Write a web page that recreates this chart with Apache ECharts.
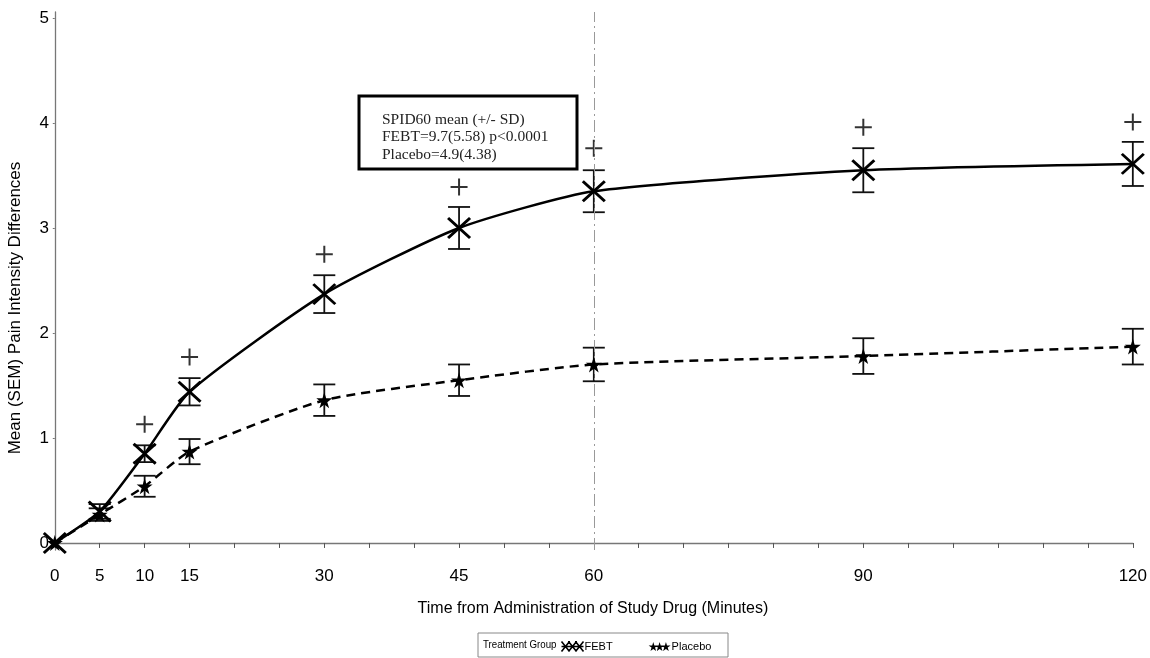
<!DOCTYPE html>
<html>
<head>
<meta charset="utf-8">
<script src="https://cdn.jsdelivr.net/npm/echarts@6/dist/echarts.min.js"></script>
<style>
html,body{margin:0;padding:0;background:#fff;}
#chart{width:1150px;height:658px;}
</style>
</head>
<body>
<div id="chart"></div>
<script>
// ---- data ----
const times = [0, 5, 10, 15, 30, 45, 60, 90, 120];
const febtMean = [0, 0.30, 0.85, 1.44, 2.37, 3.00, 3.35, 3.55, 3.61];
const febtSem = [0, 0.07, 0.08, 0.13, 0.18, 0.20, 0.20, 0.21, 0.21];
const placeboMean = [0, 0.27, 0.54, 0.87, 1.36, 1.55, 1.70, 1.78, 1.87];
const placeboSem = [0, 0.06, 0.10, 0.12, 0.15, 0.15, 0.16, 0.17, 0.17];
const sigTimes = [10, 15, 30, 45, 60, 90, 120];
const sigValues = [1.13, 1.77, 2.75, 3.39, 3.76, 3.96, 4.01];
const xTickLabels = [0, 5, 10, 15, 30, 45, 60, 90, 120];
const xMinorTicks = [0,5,10,15,20,25,30,35,40,45,50,55,60,65,70,75,80,85,90,95,100,105,110,115,120];
const yTickLabels = [0, 1, 2, 3, 4, 5];
const refLineAt = 60;
const boxLines = ['SPID60 mean (+/- SD)', 'FEBT=9.7(5.58) p<0.0001', 'Placebo=4.9(4.38)'];
const xTitle = 'Time from Administration of Study Drug (Minutes)';
const yTitle = 'Mean (SEM) Pain Intensity Differences';
const legendTitle = 'Treatment Group';

const X_PATH = 'path://M0,0L10,10M10,0L0,10';
const STAR_PATH = 'path://M50,0L61,35L98,35L68,57L79,91L50,70L21,91L32,57L2,35L39,35Z';
const PLUS_PATH = 'path://M5,0L5,10M0,5L10,5';
const X3_PATH = 'path://M0,0L8,10M8,0L0,10M7,0L15,10M15,0L7,10M14,0L22,10M22,0L14,10M0,5L22,5';
const STAR3_PATH = 'path://M50,0L61,35L98,35L68,57L79,91L50,70L21,91L32,57L2,35L39,35ZM115,0L126,35L163,35L133,57L144,91L115,70L86,91L97,57L67,35L104,35ZM180,0L191,35L228,35L198,57L209,91L180,70L151,91L162,57L132,35L169,35Z';

const febtData = times.map((t, i) => [t, febtMean[i]]);
const placeboData = times.map((t, i) => [t, placeboMean[i]]);
const febtErr = times.map((t, i) => [t, febtMean[i] - febtSem[i], febtMean[i] + febtSem[i]]).filter((d, i) => febtSem[i] > 0);
const placeboErr = times.map((t, i) => [t, placeboMean[i] - placeboSem[i], placeboMean[i] + placeboSem[i]]).filter((d, i) => placeboSem[i] > 0);
const sigData = sigTimes.map((t, i) => [t, sigValues[i]]);

function errRender(params, api) {
  const x = api.value(0);
  const lo = api.coord([x, api.value(1)]);
  const hi = api.coord([x, api.value(2)]);
  const hw = 11;
  const style = { stroke: '#111', lineWidth: 1.8, fill: null };
  return {
    type: 'group',
    children: [
      { type: 'line', shape: { x1: lo[0], y1: lo[1], x2: hi[0], y2: hi[1] }, style: style },
      { type: 'line', shape: { x1: lo[0] - hw, y1: lo[1], x2: lo[0] + hw, y2: lo[1] }, style: style },
      { type: 'line', shape: { x1: hi[0] - hw, y1: hi[1], x2: hi[0] + hw, y2: hi[1] }, style: style }
    ]
  };
}

const FONT = '"Liberation Sans", Arial, sans-serif';
const chart = echarts.init(document.getElementById('chart'), null, { renderer: 'canvas' });

chart.setOption({
  animation: false,
  backgroundColor: '#fff',
  grid: { left: 53, right: 10, top: 12, bottom: 108, containLabel: false },
  xAxis: {
    type: 'value',
    min: -0.2,
    max: 120,
    name: xTitle,
    nameLocation: 'middle',
    nameGap: 51,
    nameTextStyle: { fontFamily: FONT, fontSize: 16, color: '#000' },
    axisLine: { lineStyle: { color: '#777', width: 1.3 } },
    axisTick: { show: true, length: 5, customValues: xMinorTicks, lineStyle: { color: '#555', width: 1 } },
    axisLabel: { customValues: xTickLabels, margin: 18, fontFamily: FONT, fontSize: 17, color: '#000' },
    splitLine: { show: false }
  },
  yAxis: {
    type: 'value',
    min: -0.067,
    max: 5.057,
    axisLine: { show: true, lineStyle: { color: '#777', width: 1.3 } },
    axisTick: { show: true, length: 2, customValues: yTickLabels, lineStyle: { color: '#777' } },
    axisLabel: { customValues: yTickLabels, margin: 4, fontFamily: FONT, fontSize: 17, color: '#000' },
    splitLine: { show: false }
  },
  legend: {
    left: 559,
    top: 639,
    itemWidth: 22,
    itemHeight: 10,
    itemGap: 36,
    padding: 0,
    textStyle: { fontFamily: FONT, fontSize: 11, color: '#000', padding: [0, 0, 0, -4] },
    data: [
      { name: 'FEBT', icon: X3_PATH, itemStyle: { color: 'none', borderColor: '#000', borderWidth: 1.6 } },
      { name: 'Placebo', icon: STAR3_PATH, itemStyle: { color: '#000', borderWidth: 0 } }
    ]
  },
  graphic: [
    {
      type: 'text',
      x: 15, y: 308,
      rotation: Math.PI / 2,
      style: { text: yTitle, font: '17px ' + FONT, fill: '#000', align: 'center', verticalAlign: 'middle' }
    },
    {
      type: 'rect',
      shape: { x: 478, y: 633, width: 250, height: 24 },
      style: { fill: 'none', stroke: '#888', lineWidth: 1 },
      z: 0
    },
    {
      type: 'text',
      x: 483, y: 645,
      scaleY: 1.2,
      style: { text: legendTitle, font: '9.7px ' + FONT, fill: '#000', verticalAlign: 'middle' }
    },
    {
      type: 'group',
      z: 100,
      children: [
        {
          type: 'rect',
          shape: { x: 359, y: 96, width: 218, height: 73 },
          style: { fill: '#fff', stroke: '#000', lineWidth: 3 }
        },
        {
          type: 'text',
          x: 382, y: 111,
          style: {
            text: boxLines.join('\n'),
            font: '15.5px "Liberation Serif", "Times New Roman", serif',
            lineHeight: 17.5,
            fill: '#222'
          }
        }
      ]
    }
  ],
  series: [
    {
      name: 'FEBT',
      type: 'line',
      data: febtData,
      smooth: 0.2,
      symbol: X_PATH,
      symbolSize: [22, 20],
      lineStyle: { color: '#000', width: 2.5, type: 'solid' },
      itemStyle: { color: 'none', borderColor: '#000', borderWidth: 2.8 },
      emphasis: { disabled: true },
      z: 5,
      markLine: {
        silent: true,
        symbol: 'none',
        label: { show: false },
        lineStyle: { color: '#999', width: 1, type: [12, 4, 2, 4] },
        data: [{ xAxis: refLineAt }]
      }
    },
    {
      name: 'Placebo',
      type: 'line',
      data: placeboData,
      smooth: 0.2,
      symbol: STAR_PATH,
      symbolSize: 16,
      lineStyle: { color: '#000', width: 2.5, type: [9, 6] },
      itemStyle: { color: '#000', borderWidth: 0 },
      emphasis: { disabled: true },
      z: 5
    },
    {
      name: 'FEBT SEM',
      type: 'custom',
      data: febtErr,
      renderItem: errRender,
      encode: { x: 0, y: [1, 2] },
      z: 4
    },
    {
      name: 'Placebo SEM',
      type: 'custom',
      data: placeboErr,
      renderItem: errRender,
      encode: { x: 0, y: [1, 2] },
      z: 4
    },
    {
      name: 'Significant',
      type: 'scatter',
      data: sigData,
      symbol: PLUS_PATH,
      symbolSize: 17,
      itemStyle: { color: 'none', borderColor: '#000', borderWidth: 2 },
      emphasis: { disabled: true },
      z: 4
    }
  ]
});
</script>
</body>
</html>
